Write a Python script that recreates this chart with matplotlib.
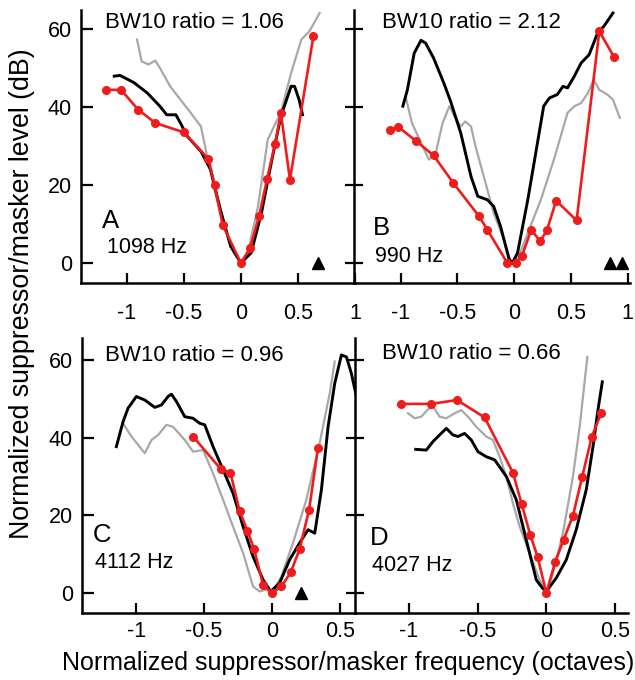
import matplotlib
matplotlib.use("Agg")
import matplotlib.pyplot as plt

plt.rcParams['font.family'] = ['Liberation Sans', 'DejaVu Sans']

# ---------------- data ----------------
# Panel A (1098 Hz)
a_red_x = [-1.18, -1.05, -0.90, -0.75, -0.50, -0.285, -0.23, -0.16, 0.0, 0.08, 0.16, 0.23, 0.30, 0.35, 0.43, 0.635]
a_red_y = [44.4, 44.4, 39.3, 35.9, 33.5, 26.7, 19.9, 9.8, 0.0, 3.8, 12.1, 21.6, 30.6, 38.5, 21.4, 58.1]
a_blk_x = [-1.11, -1.06, -0.94, -0.82, -0.71, -0.65, -0.57, -0.53, -0.47, -0.35, -0.265, -0.18, -0.09, 0.0, 0.09, 0.18, 0.26, 0.35, 0.44, 0.47, 0.51, 0.54]
a_blk_y = [47.9, 48.1, 46.3, 43.6, 40.2, 38.0, 38.0, 35.9, 32.5, 28.6, 23.9, 13.7, 4.3, 0.0, 2.6, 12.8, 24.8, 37.6, 45.3, 45.3, 41.9, 38.0]
a_gry_x = [-0.91, -0.87, -0.81, -0.75, -0.71, -0.62, -0.53, -0.44, -0.35, -0.32, -0.29, -0.24, -0.15, -0.06, 0.0, 0.06, 0.15, 0.235, 0.29, 0.35, 0.44, 0.53, 0.60, 0.69]
a_gry_y = [57.3, 51.7, 50.9, 51.9, 50.0, 45.3, 41.9, 38.5, 35.0, 30.8, 26.5, 19.7, 9.4, 2.6, 0.0, 2.6, 14.5, 31.6, 35.0, 38.5, 48.7, 57.3, 59.4, 64.1]
a_tri_x = [0.68]

# Panel B (990 Hz)
b_red_x = [-1.09, -1.02, -0.86, -0.71, -0.535, -0.31, -0.235, -0.06, 0.015, 0.07, 0.15, 0.23, 0.29, 0.37, 0.55, 0.75, 0.88]
b_red_y = [34.2, 34.9, 31.2, 27.6, 20.5, 12.0, 8.5, 0.0, 0.0, 1.9, 8.5, 5.6, 8.5, 16.0, 10.9, 59.4, 52.8]
b_blk_x = [-0.98, -0.94, -0.88, -0.82, -0.78, -0.71, -0.62, -0.56, -0.47, -0.38, -0.32, -0.235, -0.18, -0.12, -0.044, -0.015, 0.03, 0.12, 0.21, 0.26, 0.31, 0.38, 0.43, 0.47, 0.53, 0.59, 0.66, 0.735, 0.79, 0.87]
b_blk_y = [40.2, 44.4, 53.8, 57.1, 56.4, 52.6, 46.2, 41.5, 33.3, 22.2, 17.1, 16.2, 14.5, 9.4, 0.9, 0.0, 2.6, 16.2, 31.6, 40.2, 42.3, 43.2, 45.3, 44.9, 47.9, 51.3, 53.4, 59.0, 60.7, 64.1]
b_gry_x = [-0.956, -0.90, -0.82, -0.75, -0.69, -0.63, -0.57, -0.51, -0.47, -0.43, -0.38, -0.34, -0.26, -0.18, -0.09, -0.03, 0.03, 0.12, 0.235, 0.35, 0.47, 0.53, 0.59, 0.65, 0.70, 0.75, 0.82, 0.87, 0.93]
b_gry_y = [42.7, 35.9, 30.8, 26.5, 28.2, 35.9, 40.2, 36.8, 35.0, 36.3, 35.0, 29.9, 21.4, 12.8, 6.0, 0.4, 0.9, 7.7, 16.2, 26.5, 38.5, 40.2, 41.0, 43.6, 47.0, 44.4, 43.2, 41.9, 37.2]
b_tri_x = [0.84, 0.946]

# Panel C (4112 Hz)
c_red_x = [-0.581, -0.377, -0.306, -0.238, -0.181, -0.132, -0.066, 0.0, 0.069, 0.137, 0.203, 0.272, 0.338]
c_red_y = [40.3, 31.9, 31.0, 21.0, 16.0, 11.3, 2.1, 0.0, 1.7, 5.3, 11.3, 21.4, 37.4]
c_blk_x = [-1.145, -1.096, -1.059, -0.998, -0.936, -0.863, -0.814, -0.765, -0.740, -0.703, -0.642, -0.581, -0.532, -0.495, -0.434, -0.360, -0.287, -0.213, -0.140, -0.066, -0.010, 0.056, 0.130, 0.203, 0.265, 0.314, 0.363, 0.412, 0.461, 0.510, 0.547, 0.583, 0.615]
c_blk_y = [37.7, 44.1, 47.6, 50.6, 49.7, 47.8, 48.4, 50.6, 51.2, 49.3, 45.4, 45.0, 43.7, 43.3, 37.7, 31.7, 25.7, 17.1, 9.4, 3.4, 0.4, 2.6, 8.6, 12.9, 16.3, 15.4, 26.6, 42.8, 54.0, 61.3, 60.8, 56.6, 51.5]
c_gry_x = [-1.096, -1.034, -0.936, -0.887, -0.838, -0.777, -0.728, -0.642, -0.581, -0.507, -0.434, -0.360, -0.287, -0.213, -0.140, -0.091, -0.042, 0.002, 0.069, 0.154, 0.252, 0.350, 0.424, 0.461]
c_gry_y = [43.7, 40.3, 36.0, 39.4, 40.7, 43.3, 42.8, 39.4, 36.4, 36.8, 30.8, 24.0, 17.1, 10.3, 1.7, 0.4, 0.9, 0.0, 4.3, 12.9, 24.0, 38.6, 51.4, 59.6]
c_tri_x = [0.21]

# Panel D (4027 Hz)
d_red_x = [-1.056, -0.837, -0.650, -0.449, -0.243, -0.180, -0.117, -0.063, 0.0, 0.066, 0.126, 0.194, 0.262, 0.330, 0.400]
d_red_y = [48.7, 48.7, 49.7, 45.2, 31.0, 23.0, 15.0, 9.3, 0.0, 8.1, 13.7, 19.9, 30.0, 40.1, 46.4]
d_blk_x = [-0.951, -0.874, -0.825, -0.777, -0.728, -0.680, -0.643, -0.595, -0.546, -0.498, -0.437, -0.376, -0.291, -0.218, -0.146, -0.073, -0.029, 0.0, 0.073, 0.146, 0.218, 0.291, 0.340, 0.376, 0.408]
d_blk_y = [37.0, 36.8, 39.0, 40.7, 42.4, 40.7, 40.3, 41.1, 39.4, 36.4, 35.1, 34.3, 30.0, 24.0, 13.7, 3.4, 1.3, 0.4, 3.9, 8.6, 16.3, 26.6, 37.7, 47.1, 54.4]
d_gry_x = [-1.007, -0.959, -0.910, -0.862, -0.825, -0.777, -0.728, -0.667, -0.619, -0.570, -0.510, -0.437, -0.388, -0.340, -0.291, -0.243, -0.194, -0.121, -0.049, 0.0, 0.049, 0.121, 0.194, 0.243, 0.299]
d_gry_y = [46.3, 45.0, 45.4, 47.3, 48.0, 45.4, 45.0, 46.3, 47.1, 45.4, 42.8, 40.3, 39.4, 35.1, 30.0, 23.1, 17.1, 10.3, 3.4, 0.0, 5.1, 15.4, 30.0, 42.8, 60.8]
d_tri_x = []

panel_letters = ["A", "B", "C", "D"]
panel_freqs = ["1098 Hz", "990 Hz", "4112 Hz", "4027 Hz"]
bw_ratios = ["1.06", "2.12", "0.96", "0.66"]
top_xticks = [-1, -0.5, 0, 0.5, 1]
top_xticklabels = ["-1", "-0.5", "0", "0.5", "1"]
bot_xticks = [-1, -0.5, 0, 0.5]
bot_xticklabels = ["-1", "-0.5", "0", "0.5"]
yticks = [0, 20, 40, 60]

# ---------------- figure ----------------
W, H = 635, 680
fig = plt.figure(figsize=(W / 100, H / 100), dpi=100)

def frac(l, r, top, bot):
    return [l / W, 1 - bot / H, (r - l) / W, (bot - top) / H]

RED = '#f01c1c'
GRAY = '#a8a8a8'

panels = [
    dict(rect=frac(80.7, 355, 10, 283), xlim=(-1.404, 1.0), ylim=(-5.13, 64.87),
         red=(a_red_x, a_red_y), blk=(a_blk_x, a_blk_y), gry=(a_gry_x, a_gry_y), tri=a_tri_x,
         xt=top_xticks, xtl=top_xticklabels, left=True, xpad=14.5,
         bw=(0.089, 0.956), let=(0.077, 0.2015), fq=(0.095, 0.11)),
    dict(rect=frac(354, 630, 10, 283), xlim=(-1.41, 1.02), ylim=(-5.13, 64.87),
         red=(b_red_x, b_red_y), blk=(b_blk_x, b_blk_y), gry=(b_gry_x, b_gry_y), tri=b_tri_x,
         xt=top_xticks, xtl=top_xticklabels, left=False, xpad=14.5,
         bw=(0.101, 0.956), let=(0.07, 0.176), fq=(0.077, 0.078)),
    dict(rect=frac(81.7, 355, 338, 613), xlim=(-1.40, 0.61), ylim=(-5.15, 65.67),
         red=(c_red_x, c_red_y), blk=(c_blk_x, c_blk_y), gry=(c_gry_x, c_gry_y), tri=c_tri_x,
         xt=bot_xticks, xtl=bot_xticklabels, left=True, xpad=5.5,
         bw=(0.085, 0.938), let=(0.042, 0.259), fq=(0.049, 0.163)),
    dict(rect=frac(355, 628, 338, 613), xlim=(-1.393, 0.595), ylim=(-5.15, 65.67),
         red=(d_red_x, d_red_y), blk=(d_blk_x, d_blk_y), gry=(d_gry_x, d_gry_y), tri=d_tri_x,
         xt=bot_xticks, xtl=bot_xticklabels, left=False, xpad=5.5,
         bw=(0.098, 0.945), let=(0.055, 0.247), fq=(0.061, 0.154)),
]

for i, p in enumerate(panels):
    ax = fig.add_axes(p['rect'])
    ax.set_facecolor('none')
    ax.plot(*p['gry'], color=GRAY, lw=1.6, zorder=2, solid_joinstyle='round')
    ax.plot(*p['blk'], color='black', lw=2.1, zorder=3, solid_joinstyle='round')
    ax.plot(*p['red'], color=RED, lw=1.9, marker='o', ms=5.5, mec=RED, mfc=RED, zorder=4)
    if p['tri']:
        ax.plot(p['tri'], [0] * len(p['tri']), linestyle='none', marker='^', ms=9,
                color='black', zorder=5, clip_on=False)
    ax.set_xlim(*p['xlim'])
    ax.set_ylim(*p['ylim'])
    for s in ['top', 'right']:
        ax.spines[s].set_visible(False)
    for s in ['left', 'bottom']:
        ax.spines[s].set_linewidth(1.8)
    ax.set_xticks(p['xt'])
    ax.set_xticklabels(p['xtl'])
    ax.set_yticks(yticks)
    ax.tick_params(axis='x', direction='in', length=7.2, width=1.6, labelsize=15.5, pad=p['xpad'])
    if p['left']:
        ax.set_yticklabels([str(v) for v in yticks])
        ax.tick_params(axis='y', direction='in', length=8.4, width=1.6, labelsize=15.5, pad=6.3)
    else:
        ax.tick_params(axis='y', direction='inout', length=13, width=1.6, labelleft=False)
    ax.text(p['bw'][0], p['bw'][1], "BW10 ratio = " + bw_ratios[i], transform=ax.transAxes,
            ha='left', va='center', fontsize=16)
    ax.text(p['let'][0], p['let'][1], panel_letters[i], transform=ax.transAxes,
            ha='left', va='baseline', fontsize=18.5)
    ax.text(p['fq'][0], p['fq'][1], panel_freqs[i], transform=ax.transAxes,
            ha='left', va='baseline', fontsize=15.5)

fig.text(22.5 / W, 1 - 293.5 / H, "Normalized suppressor/masker level (dB)", rotation=90,
         ha='center', va='center', fontsize=19.3)
fig.text(348.5 / W, 1 - 663 / H, "Normalized suppressor/masker frequency (octaves)",
         ha='center', va='center', fontsize=18)

fig.savefig("out.png", dpi=100)
